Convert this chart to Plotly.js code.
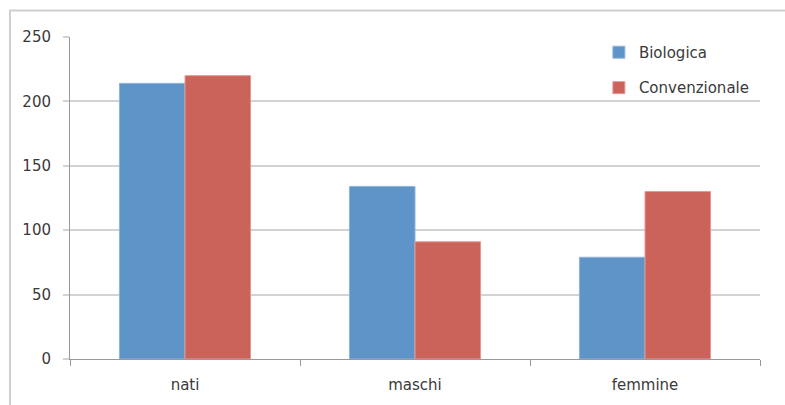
<!DOCTYPE html>
<html>
<head>
<meta charset="utf-8">
<script src="https://cdn.plot.ly/plotly-3.0.1.min.js"></script>
<style>
html,body{margin:0;padding:0;background:#fff;}
#chart{width:785px;height:405px;}
</style>
</head>
<body>
<div id="chart"></div>
<script>
const categories = ["nati", "maschi", "femmine"];
const biologica = [214, 134, 79];
const convenzionale = [220, 91, 130];
const seriesNames = ["Biologica", "Convenzionale"];
const yTicks = [0, 50, 100, 150, 200, 250];

const font = {family: "DejaVu Sans, Verdana, sans-serif", size: 15, color: "#3a3a3a"};

const traces = [
  {type: "bar", name: seriesNames[0], x: categories, y: biologica, showlegend: true,
   marker: {color: "#5f94c8", line: {color: "#8fb4dc", width: 1}}, legend: "legend"},
  {type: "bar", name: seriesNames[1], x: categories, y: convenzionale, showlegend: true,
   marker: {color: "#cc635b", line: {color: "#e09a94", width: 1}}, legend: "legend2"}
];

const legendCommon = {font: font, bgcolor: "rgba(0,0,0,0)", itemwidth: 30,
  xanchor: "left", yanchor: "middle", itemclick: false, visible: true};

const layout = {
  width: 785, height: 405,
  margin: {l: 70, r: 25, t: 36.5, b: 46},
  paper_bgcolor: "#fff", plot_bgcolor: "#fff",
  font: font,
  showlegend: true,
  barmode: "group", bargap: 0.43, bargroupgap: 0,
  xaxis: {
    type: "category", showgrid: false, showline: true, linecolor: "#999", linewidth: 1,
    ticks: "outside", tickson: "boundaries", ticklen: 6, tickcolor: "#999",
    tickfont: font, ticklabelstandoff: 12, zeroline: false, fixedrange: true
  },
  yaxis: {
    range: [0, 250], tickvals: yTicks, showgrid: true, gridcolor: "#d2d2d2", gridwidth: 2,
    showline: true, linecolor: "#999", linewidth: 1, ticks: "outside", ticklen: 6,
    tickcolor: "#d2d2d2", tickwidth: 2, tickfont: font, zeroline: false, fixedrange: true,
    ticklabelstandoff: 9
  },
  legend: Object.assign({x: 0.7665, y: 0.952}, legendCommon),
  legend2: Object.assign({x: 0.7665, y: 0.842}, legendCommon),
  shapes: [
    {type: "rect", xref: "paper", yref: "paper",
     x0: -0.087, x1: 1.2, y0: -0.3, y1: 1.082,
     line: {color: "#cfcfcf", width: 2}, fillcolor: "rgba(0,0,0,0)", layer: "below"}
  ]
};

Plotly.newPlot("chart", traces, layout, {displayModeBar: false, staticPlot: true});
</script>
</body>
</html>
